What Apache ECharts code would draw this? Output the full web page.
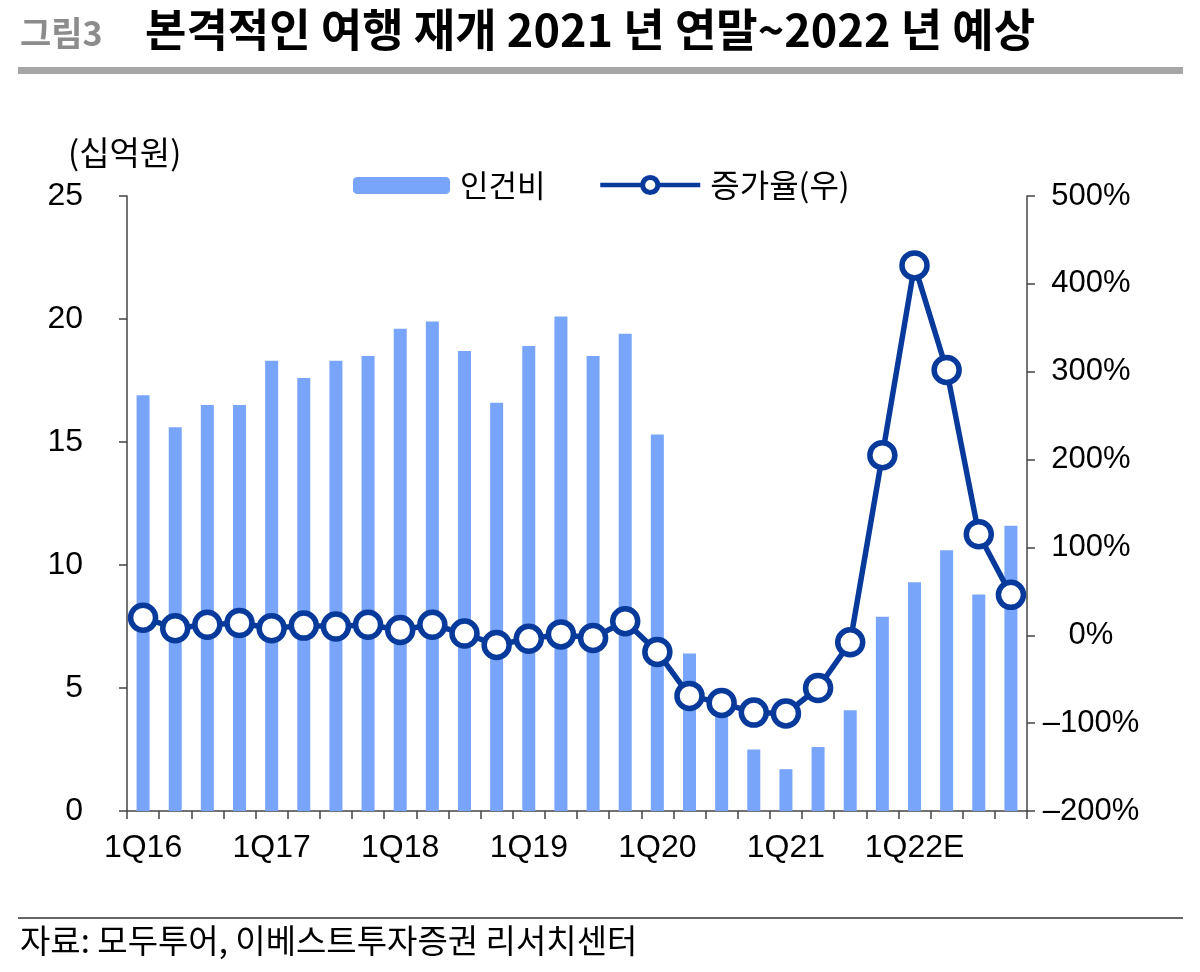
<!DOCTYPE html>
<html>
<head>
<meta charset="utf-8">
<script src="https://cdn.jsdelivr.net/npm/echarts@6/dist/echarts.min.js"></script>
<style>
html,body{margin:0;padding:0;background:#fff;}
#chart{width:1200px;height:972px;}
</style>
</head>
<body>
<div id="chart"></div>
<script>
var categories = ['1Q16','2Q16','3Q16','4Q16','1Q17','2Q17','3Q17','4Q17','1Q18','2Q18','3Q18','4Q18','1Q19','2Q19','3Q19','4Q19','1Q20','2Q20','3Q20','4Q20','1Q21','2Q21','3Q21','4Q21','1Q22E','2Q22E','3Q22E','4Q22E'];
var laborCost = [16.9,15.6,16.5,16.5,18.3,17.6,18.3,18.5,19.6,19.9,18.7,16.6,18.9,20.1,18.5,19.4,15.3,6.4,4.3,2.5,1.7,2.6,4.1,7.9,9.3,10.6,8.8,11.6];
var growthRate = [20,8,12,14,8,11,10,12,6,12,2,-11,-4,1,-3,16,-19,-69,-77,-88,-89,-60,-8,205,421,302,115,46];
var leftTicks = {min:0, max:25, interval:5};
var rightTicks = {min:-200, max:500, interval:100};

var NUM = "'Liberation Sans Narrow','Liberation Sans',Arial,sans-serif";
var KR = "'Noto Sans CJK KR',sans-serif";
var BLUE = '#083a9b';
var BAR = '#78a5fa';

var chart = echarts.init(document.getElementById('chart'));
chart.setOption({
  backgroundColor:'#fff',
  animation:false,
  grid:{left:127, right:173, top:196, bottom:161, containLabel:false},
  legend:[
    {data:['인건비'], left:353, top:170, padding:0, itemWidth:97, itemHeight:17,
     textStyle:{fontSize:31, fontFamily:KR, color:'#000', padding:[0,0,0,5]}},
    {data:['증가율(우)'], left:598, top:169, padding:0, itemWidth:100, itemHeight:19,
     lineStyle:{width:4.5, color:BLUE},
     itemStyle:{color:'#fff', borderColor:BLUE, borderWidth:5},
     textStyle:{fontSize:32, fontFamily:KR, color:'#000', padding:[0,0,0,5]}}
  ],
  xAxis:{
    type:'category', data:categories, boundaryGap:true,
    axisLine:{lineStyle:{color:'#444', width:1.5}},
    axisTick:{show:true, interval:0, length:8, lineStyle:{color:'#444', width:1.5}},
    axisLabel:{interval:3, fontSize:32, fontFamily:NUM, color:'#000', margin:21}
  },
  yAxis:[
    {type:'value', min:leftTicks.min, max:leftTicks.max, interval:leftTicks.interval,
     splitLine:{show:false},
     axisLine:{show:true, lineStyle:{color:'#444', width:1.5}},
     axisTick:{show:true, length:8, lineStyle:{color:'#444', width:1.5}},
     axisLabel:{fontSize:32, fontFamily:NUM, color:'#000', margin:44}},
    {type:'value', position:'right', min:rightTicks.min, max:rightTicks.max, interval:rightTicks.interval,
     splitLine:{show:false},
     axisLine:{show:true, lineStyle:{color:'#444', width:1.5}},
     axisTick:{show:true, length:8, lineStyle:{color:'#444', width:1.5}},
     axisLabel:{fontSize:31, fontFamily:NUM, color:'#000', margin:64, align:'center',
       formatter:function(v){return (v<0?'\u2013'+(-v):v)+'%';}}}
  ],
  series:[
    {name:'인건비', type:'bar', data:laborCost, yAxisIndex:0, barWidth:13,
     itemStyle:{color:BAR}},
    {name:'증가율(우)', type:'line', data:growthRate, yAxisIndex:1,
     symbol:'circle', symbolSize:25, showAllSymbol:true,
     lineStyle:{color:BLUE, width:5.5},
     itemStyle:{color:'#fff', borderColor:BLUE, borderWidth:5.5}, z:5}
  ],
  graphic:[
    {type:'text', left:20, top:16, style:{text:'그림3', fontSize:34, fontWeight:'bold', fontFamily:KR, fill:'#8c8c8c'}},
    {type:'text', left:145, top:7, style:{text:'본격적인 여행 재개 2021 년 연말~2022 년 예상', fontSize:45, fontWeight:'bold', fontFamily:KR, fill:'#000'}},
    {type:'rect', shape:{x:18, y:67, width:1165, height:7}, style:{fill:'#a6a6a6'}},
    {type:'text', left:68, top:136, style:{text:'(십억원)', fontSize:33, fontFamily:KR, fill:'#000'}},
    {type:'line', shape:{x1:18, y1:918, x2:1183, y2:918}, style:{stroke:'#333', lineWidth:1.5}},
    {type:'text', left:20, top:924, style:{text:'자료: 모두투어, 이베스트투자증권 리서치센터', fontSize:33, fontFamily:KR, fill:'#000'}}
  ]
});
</script>
</body>
</html>
